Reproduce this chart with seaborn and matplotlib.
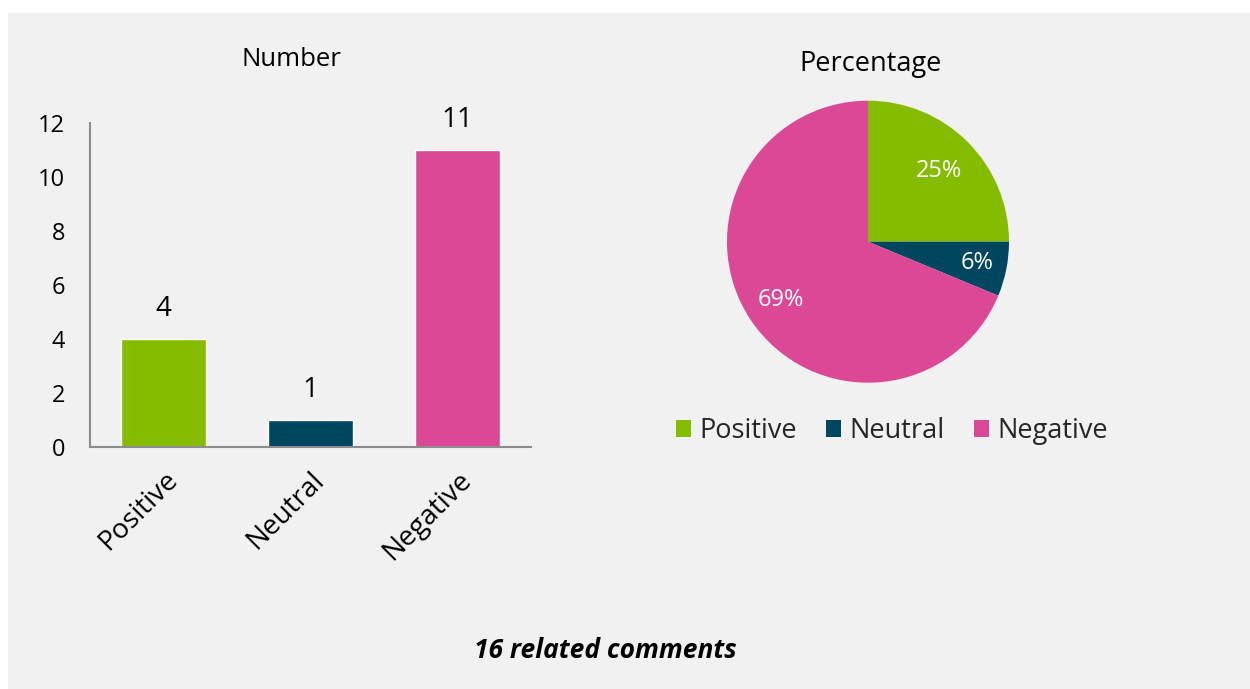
import matplotlib
matplotlib.use("Agg")
import matplotlib.pyplot as plt
import matplotlib.transforms as mtransforms
import seaborn as sns
import pandas as pd
import numpy as np
from matplotlib.patches import Rectangle, Patch

categories = ["Positive", "Neutral", "Negative"]
counts = [4, 1, 11]
percent_labels = ["25%", "6%", "69%"]
colors = ["#86BC00", "#00465F", "#DB4896"]
yticks = [0, 2, 4, 6, 8, 10, 12]
footer = "16 related comments"

sns.set_theme(style="white")
plt.rcParams["font.family"] = ["Open Sans", "DejaVu Sans"]

W, H = 1250, 689
fig = plt.figure(figsize=(12.5, 6.89), dpi=100, facecolor="white")
fig.patches.append(Rectangle((8 / W, 0), 1 - 8 / W, 1 - 13 / H, transform=fig.transFigure,
                             facecolor="#F1F1F1", edgecolor="none", zorder=-10))

def fx(px):
    return px / W

def fy(py):
    return 1 - py / H

# ---- bar chart ----
ax = fig.add_axes([fx(90), fy(446.7), fx(531) - fx(90), fy(122.7) - fy(446.7)])
ax.set_facecolor("none")
df = pd.DataFrame({"cat": categories, "n": counts})
sns.barplot(data=df, x="cat", y="n", hue="cat", palette=colors, width=0.578,
            legend=False, ax=ax, saturation=1)
ax.set_xlim(-0.5, 2.5)
ax.set_ylim(0, 12)
ax.set_yticks(yticks)
ax.set_yticklabels([str(t) for t in yticks], fontsize=17)
ax.set_xlabel("")
ax.set_ylabel("")
for p in ax.patches:
    h = p.get_height()
    if np.isnan(h):
        continue
    ax.annotate(f"{int(round(h))}", (p.get_x() + p.get_width() / 2, h),
                xytext=(0, 11), textcoords="offset points", ha="center", va="bottom",
                fontsize=20, color="black")
ax.set_xticks(range(len(categories)))
ax.set_xticklabels(categories, rotation=45, ha="right", rotation_mode="anchor", fontsize=20)
shift = mtransforms.ScaledTranslation(-6 / 100, 0, fig.dpi_scale_trans)
for lbl in ax.get_xticklabels():
    lbl.set_transform(lbl.get_transform() + shift)
ax.tick_params(axis="y", length=0, pad=18, colors="black")
ax.tick_params(axis="x", length=0, pad=14, colors="black")
for s in ["top", "right"]:
    ax.spines[s].set_visible(False)
for s in ["left", "bottom"]:
    ax.spines[s].set_color("#8C8C8C")
    ax.spines[s].set_linewidth(1.5)
fig.text(fx(291), fy(60), "Number", ha="center", va="center", fontsize=18.5, color="black")

# ---- pie chart ----
cx, cy, r = 868, 241.7, 141
pax = fig.add_axes([fx(cx - r), fy(cy + r), fx(2 * r), fy(cy - r) - fy(cy + r)])
wedges, _ = pax.pie(counts, colors=colors, startangle=90, counterclock=False, radius=1,
                    wedgeprops=dict(linewidth=0))
pax.set_xlim(-1, 1)
pax.set_ylim(-1, 1)
pax.set_aspect("equal")
pax.axis("off")
dists = [0.71, 0.79, 0.74]
for w, lab, d in zip(wedges, percent_labels, dists):
    ang = np.deg2rad((w.theta1 + w.theta2) / 2)
    pax.text(d * np.cos(ang), d * np.sin(ang), lab, ha="center", va="center",
             color="white", fontsize=17)
fig.text(fx(871), fy(64), "Percentage", ha="center", va="center", fontsize=19.5, color="black")

handles = [Patch(facecolor=c, edgecolor="none") for c in colors]
fig.legend(handles, categories, loc="center", bbox_to_anchor=(fx(892), fy(431)), ncol=3,
           frameon=False, fontsize=19.5, handlelength=0.55, handleheight=0.55,
           handletextpad=0.3, columnspacing=1.1, borderpad=0)

fig.text(fx(605), fy(651), footer, ha="center", va="center", fontsize=19,
         fontweight="bold", fontstyle="italic", color="black")

fig.savefig("out.png", dpi=100, facecolor="white")
